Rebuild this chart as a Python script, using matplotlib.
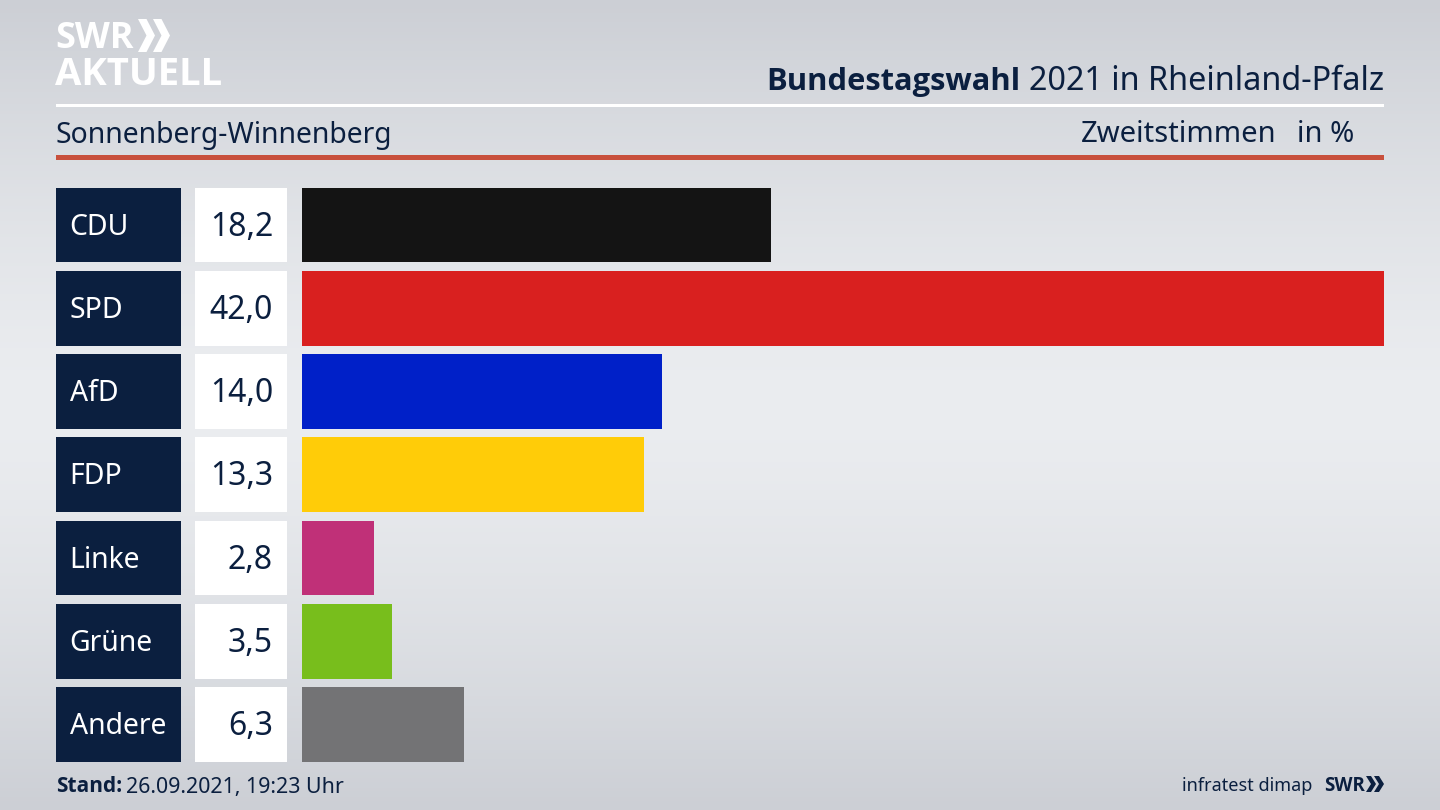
#!/usr/bin/env python3
"""Bundestagswahl 2021 result bars for Sonnenberg-Winnenberg."""

import matplotlib

matplotlib.use("Agg")
import matplotlib.pyplot as plt
import numpy as np
from matplotlib.patches import Polygon, Rectangle

W, H = 1440, 810
NAVY = "#0b1f3f"
BOLD_FONT = ["Open Sans", "DejaVu Sans"]

parties = ["CDU", "SPD", "AfD", "FDP", "Linke", "Grüne", "Andere"]
values = [18.2, 42.0, 14.0, 13.3, 2.8, 3.5, 6.3]
value_labels = ["18,2", "42,0", "14,0", "13,3", "2,8", "3,5", "6,3"]
colors = ["#141414", "#d9201f", "#0020c8", "#ffcc08", "#c03078", "#78be1c", "#737375"]

plt.rcParams["font.family"] = ["Noto Sans", "DejaVu Sans"]


def px_axes(fig, left, right, top, bottom):
    """Axes placed by pixel edges, y measured from the top of the picture."""
    return fig.add_axes([left / W, 1 - bottom / H, (right - left) / W, (bottom - top) / H])


def add_chevron(ax, x, y, w, h, color):
    ax.add_patch(Polygon(
        [(x, y), (x + w * 0.5, y), (x + w, y + h / 2), (x + w * 0.5, y + h), (x, y + h),
         (x + w * 0.5, y + h / 2)],
        closed=True, color=color, lw=0,
    ))


fig = plt.figure(figsize=(W / 100, H / 100), dpi=100)

# page: background gradient, header, rules, footer all in pixel coordinates
page = fig.add_axes([0, 0, 1, 1])
page.set_xlim(0, W)
page.set_ylim(H, 0)
page.axis("off")

# lightest around the middle, darker towards top and bottom
grad = 1 - np.abs(np.linspace(-1, 1, 256)) ** 1.4
page.imshow(
    (np.array([204, 207, 213]) + grad[:, None] * np.array([31, 30, 27]))[:, None, :] / 255,
    extent=(0, W, H, 0), aspect="auto", zorder=0,
)

page.text(55, 39, "SWR", color="white", fontsize=26, fontweight="bold",
          family=BOLD_FONT, va="center", ha="left")
add_chevron(page, 138, 19, 17, 33, "white")
add_chevron(page, 153, 19, 17, 33, "white")
page.text(55, 75, "AKTUELL", color="white", fontsize=27.5, fontweight="bold",
          family=BOLD_FONT, va="center", ha="left")

page.text(1384, 82, "2021 in Rheinland-Pfalz", color=NAVY, fontsize=23.3,
          ha="right", va="center")
page.text(1020, 82, "Bundestagswahl", color=NAVY, fontsize=22.2, fontweight="bold",
          family=BOLD_FONT, ha="right", va="center")
page.add_patch(Rectangle((56, 104), 1328, 3, color="white", lw=0))

page.text(55.5, 135, "Sonnenberg-Winnenberg", color=NAVY, fontsize=20.4, ha="left", va="center")
page.text(1277, 135, "Zweitstimmen", color=NAVY, fontsize=21, ha="right", va="center")
page.text(1354, 135, "in %", color=NAVY, fontsize=21, ha="right", va="center")
page.add_patch(Rectangle((56, 155), 1328, 5, color="#c8503c", lw=0))

page.text(56, 787, "Stand:", color=NAVY, fontsize=15, fontweight="bold",
          family=BOLD_FONT, ha="left", va="center")
page.text(126, 787, "26.09.2021, 19:23 Uhr", color=NAVY, fontsize=15.4, ha="left", va="center")
page.text(1312, 786, "infratest dimap", color=NAVY, fontsize=13, ha="right", va="center")
page.text(1324, 786, "SWR", color=NAVY, fontsize=13.5, fontweight="bold",
          family=BOLD_FONT, ha="left", va="center")
add_chevron(page, 1366, 776, 10, 16, NAVY)
add_chevron(page, 1374, 776, 10, 16, NAVY)

# rows share one y scale: pitch 83.25 px, bars 75 px high
top_px = 187.5 - 4.125
bottom_px = 762 + 4.125
y = np.arange(len(parties))

ax_names = px_axes(fig, 56, 181, top_px, bottom_px)
ax_vals = px_axes(fig, 195, 287, top_px, bottom_px)
ax = px_axes(fig, 301.5, 1384, top_px, bottom_px)

for a in (ax_names, ax_vals, ax):
    a.set_ylim(len(parties) - 0.5, -0.5)
    a.axis("off")
    a.patch.set_visible(False)

ax_names.set_xlim(0, 1)
ax_vals.set_xlim(0, 1)
ax_names.barh(y, [1] * len(y), height=0.9, color=NAVY)
ax_vals.barh(y, [1] * len(y), height=0.9, color="white")

ax.set_xlim(0, max(values))
ax.barh(y, values, height=0.9, color=colors)

for i, name in enumerate(parties):
    ax_names.text(13.5 / 125, i + 0.025, name, color="white", fontsize=20.4, ha="left", va="center")
for i, label in enumerate(value_labels):
    ax_vals.text(78 / 92, i + 0.025, label, color=NAVY, fontsize=23, ha="right", va="center")

fig.savefig("out.png", dpi=100)
